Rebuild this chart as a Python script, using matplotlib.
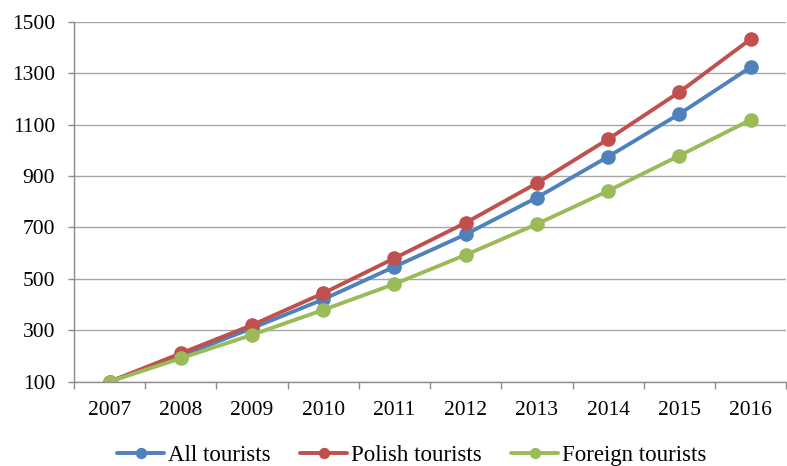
import matplotlib.pyplot as plt

plt.rcParams['font.family'] = ['Liberation Serif', 'DejaVu Serif']

years = ['2007', '2008', '2009', '2010', '2011', '2012', '2013', '2014', '2015', '2016']
all_tourists = [100, 200, 308, 420, 547, 673, 816, 975, 1141, 1323]
polish_tourists = [100, 210, 320, 444, 580, 718, 872, 1043, 1226, 1432]
foreign_tourists = [100, 191, 282, 379, 480, 593, 713, 842, 979, 1118]

series = [
    ('All tourists', all_tourists, '#4F81BD'),
    ('Polish tourists', polish_tourists, '#C0504D'),
    ('Foreign tourists', foreign_tourists, '#9BBB59'),
]

fig = plt.figure(figsize=(7.87, 4.66), dpi=100)
ax = fig.add_axes([0.094, 0.181, 0.905, 0.7725])

x = list(range(len(years)))
for label, values, color in series:
    ax.plot(x, values, color=color, lw=2.8, marker='o', ms=9.5,
            label=label, solid_capstyle='round')

ax.set_xlim(-0.5, len(years) - 0.5)
ax.set_ylim(100, 1500)
ax.set_yticks(range(100, 1501, 200))
ax.grid(axis='y', color='#a6a6a6', lw=1.0)
ax.set_axisbelow(True)

# category boundaries carry the tick marks, labels sit at centres
ax.set_xticks([i - 0.5 for i in range(len(years) + 1)])
ax.set_xticklabels([])
ax.set_xticks(x, minor=True)
ax.set_xticklabels(years, minor=True)
ax.tick_params(axis='x', which='major', length=5, color='#8c8c8c', width=1)
ax.tick_params(axis='x', which='minor', length=0, pad=14, labelsize=15.5)
ax.tick_params(axis='y', length=4.5, color='#8c8c8c', width=1, labelsize=15.5, pad=9)

for side in ('top', 'right'):
    ax.spines[side].set_visible(False)
for side in ('left', 'bottom'):
    ax.spines[side].set_color('#8c8c8c')
    ax.spines[side].set_linewidth(1)

fig.legend(loc='lower center', bbox_to_anchor=(0.523, -0.045), ncol=3, frameon=False,
           fontsize=16.5, handlelength=2.05, handletextpad=0.15, columnspacing=1.3,
           markerscale=0.75)

fig.savefig('out.png', dpi=100)
